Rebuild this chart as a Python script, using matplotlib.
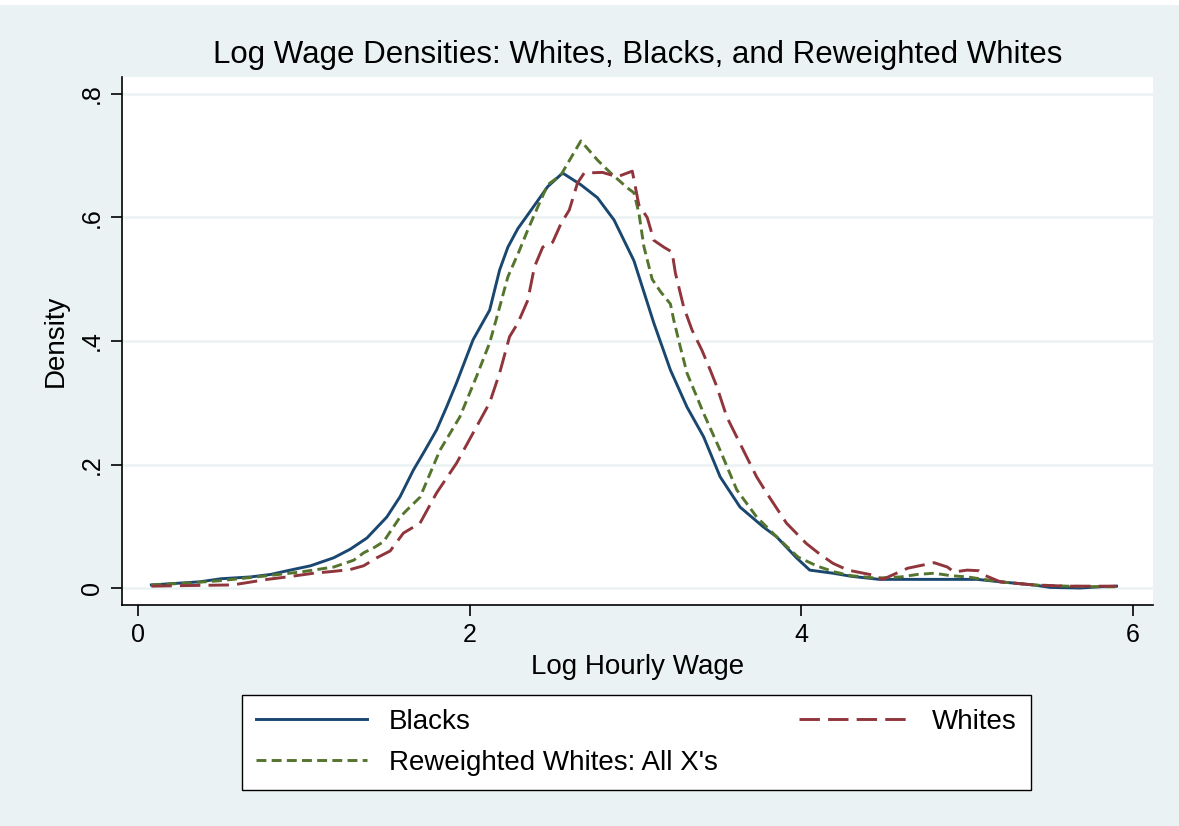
import matplotlib
matplotlib.use("Agg")
import matplotlib.pyplot as plt
from matplotlib.patches import Rectangle

plt.rcParams['font.family'] = ['Liberation Sans', 'DejaVu Sans']

# Log hourly wage grid and densities
blacks_x = [0.08, 0.2, 0.37, 0.5, 0.68, 0.8, 0.9, 1.04, 1.18, 1.28, 1.38, 1.5, 1.58,
            1.66, 1.73, 1.8, 1.86, 1.92, 2.02, 2.12, 2.18, 2.23, 2.29, 2.37, 2.47, 2.56,
            2.67, 2.77, 2.87, 2.99, 3.11, 3.21, 3.31, 3.41, 3.51, 3.63, 3.77, 3.85, 3.97,
            4.05, 4.19, 4.3, 4.47, 4.7, 4.9, 5.06, 5.2, 5.4, 5.5, 5.68, 5.8, 5.9]
blacks_y = [0.005, 0.007, 0.01, 0.015, 0.018, 0.022, 0.028, 0.036, 0.049, 0.063, 0.081,
            0.115, 0.148, 0.191, 0.223, 0.256, 0.293, 0.332, 0.402, 0.45, 0.515, 0.552,
            0.582, 0.612, 0.65, 0.672, 0.653, 0.632, 0.596, 0.53, 0.429, 0.353, 0.293,
            0.245, 0.18, 0.131, 0.099, 0.083, 0.049, 0.029, 0.024, 0.019, 0.014, 0.014,
            0.014, 0.014, 0.01, 0.005, 0.001, 0.0, 0.002, 0.003]

whites_x = [0.08, 0.3, 0.57, 0.78, 0.9, 1.06, 1.18, 1.28, 1.36, 1.44, 1.52, 1.6, 1.7,
            1.8, 1.92, 2.02, 2.12, 2.18, 2.24, 2.29, 2.35, 2.39, 2.44, 2.5, 2.55, 2.6,
            2.65, 2.69, 2.8, 2.89, 2.98, 3.02, 3.07, 3.11, 3.17, 3.22, 3.24, 3.29, 3.34,
            3.4, 3.45, 3.49, 3.55, 3.65, 3.73, 3.79, 3.91, 4.03, 4.11, 4.19, 4.28, 4.43,
            4.49, 4.64, 4.8, 4.88, 4.92, 5.0, 5.07, 5.11, 5.2, 5.4, 5.6, 5.8, 5.9]
whites_y = [0.003, 0.004, 0.005, 0.014, 0.018, 0.024, 0.027, 0.03, 0.036, 0.049, 0.06,
            0.089, 0.105, 0.154, 0.202, 0.251, 0.3, 0.348, 0.407, 0.429, 0.466, 0.52,
            0.552, 0.56, 0.59, 0.612, 0.656, 0.672, 0.673, 0.666, 0.675, 0.62, 0.6,
            0.563, 0.552, 0.544, 0.51, 0.455, 0.418, 0.385, 0.353, 0.326, 0.277, 0.223,
            0.18, 0.154, 0.105, 0.072, 0.055, 0.04, 0.029, 0.021, 0.014, 0.032, 0.041,
            0.034, 0.026, 0.029, 0.028, 0.02, 0.01, 0.005, 0.003, 0.003, 0.003]

rew_x = [0.08, 0.3, 0.5, 0.75, 0.98, 1.18, 1.3, 1.36, 1.42, 1.48, 1.58, 1.62, 1.7, 1.82,
         1.94, 2.04, 2.12, 2.17, 2.23, 2.3, 2.35, 2.41, 2.47, 2.55, 2.67, 2.77, 2.85,
         2.95, 2.99, 3.02, 3.05, 3.1, 3.15, 3.21, 3.23, 3.27, 3.31, 3.41, 3.51, 3.61,
         3.73, 3.85, 3.98, 4.1, 4.2, 4.3, 4.45, 4.6, 4.7, 4.8, 4.9, 5.0, 5.1, 5.2, 5.4,
         5.6, 5.8, 5.9]
rew_y = [0.005, 0.008, 0.012, 0.019, 0.026, 0.034, 0.045, 0.057, 0.065, 0.075, 0.115,
         0.126, 0.147, 0.223, 0.277, 0.342, 0.397, 0.445, 0.504, 0.547, 0.58, 0.617,
         0.653, 0.669, 0.724, 0.693, 0.672, 0.648, 0.64, 0.607, 0.553, 0.5, 0.48, 0.46,
         0.434, 0.39, 0.348, 0.283, 0.223, 0.159, 0.115, 0.083, 0.05, 0.035, 0.026,
         0.02, 0.016, 0.018, 0.022, 0.024, 0.02, 0.018, 0.014, 0.01, 0.005, 0.003,
         0.002, 0.002]

x_ticks = [0, 2, 4, 6]
y_ticks = [0, 0.2, 0.4, 0.6, 0.8]
y_tick_labels = ["0", ".2", ".4", ".6", ".8"]

BG = '#EAF2F3'
NAVY = '#1A476F'
MAROON = '#90353B'
GREEN = '#55752F'

fig = plt.figure(figsize=(11.79, 8.26), dpi=100, facecolor=BG)
# white strip at the very top (cropped page)
fig.patches.append(Rectangle((0, 1 - 5 / 826), 1, 5 / 826, transform=fig.transFigure,
                             facecolor='white', edgecolor='none'))

ax = fig.add_axes([122 / 1179, 1 - 605 / 826, (1153 - 122) / 1179, (605 - 77) / 826])
ax.set_facecolor('white')

for t in y_ticks:
    ax.axhline(t, color=BG, lw=1.8, zorder=0)

ax.plot(blacks_x, blacks_y, color=NAVY, lw=2.1, label='Blacks')
ax.plot(rew_x, rew_y, color=GREEN, lw=2.1, dashes=(3.4, 1.8),
        label="Reweighted Whites: All X's")
ax.plot(whites_x, whites_y, color=MAROON, lw=2.1, dashes=(7, 2.8), label='Whites')

ax.set_xlim(-0.097, 6.12)
ax.set_ylim(-0.0275, 0.8275)
ax.set_xticks(x_ticks)
ax.set_xticklabels([str(v) for v in x_ticks])
ax.set_yticks(y_ticks)
ax.set_yticklabels(y_tick_labels, rotation=90, va='center')

for s in ['top', 'right']:
    ax.spines[s].set_visible(False)
for s in ['left', 'bottom']:
    ax.spines[s].set_linewidth(1.2)
ax.tick_params(axis='both', direction='out', length=8, width=1.2, labelsize=18,
               pad=5)

ax.set_xlabel('Log Hourly Wage', fontsize=20, labelpad=5)
ax.set_ylabel('Density', fontsize=20, labelpad=8)
ax.set_title('Log Wage Densities: Whites, Blacks, and Reweighted Whites',
             fontsize=22.5, pad=10)

h, l = ax.get_legend_handles_labels()
leg = fig.legend(h, l, ncol=2, loc='lower left', mode='expand',
                 bbox_to_anchor=(242 / 1179, 1 - 790 / 826, (1031 - 242) / 1179, 0.1),
                 borderaxespad=0, fontsize=20, handlelength=4.0, handletextpad=0.8,
                 labelspacing=0.55, borderpad=0.5, frameon=True, fancybox=False,
                 edgecolor='black', facecolor='white', framealpha=1)
leg.get_frame().set_linewidth(1.0)

fig.savefig('out.png', dpi=100, facecolor=BG)
